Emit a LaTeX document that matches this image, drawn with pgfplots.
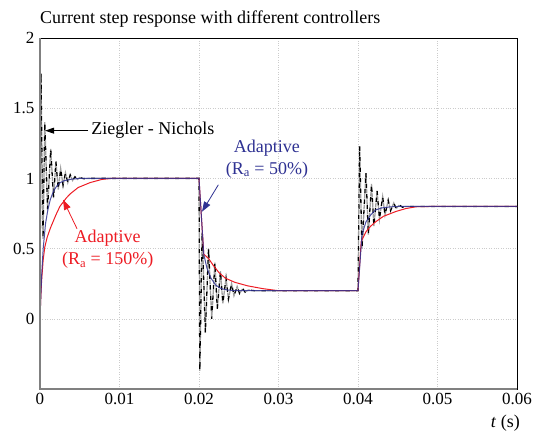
\documentclass[border=0pt]{standalone}
\usepackage{fontspec}
\setmainfont{Liberation Serif}
\usepackage{pgfplots}
\pgfplotsset{compat=1.18}
\usetikzlibrary{arrows.meta}
\definecolor{blueC}{RGB}{46,49,146}
\definecolor{redC}{RGB}{237,28,36}
\begin{document}
\begin{tikzpicture}
\useasboundingbox (-40pt,-45pt) rectangle (493pt,389pt);
\begin{axis}[
  at={(0pt,0pt)}, anchor=south west,
  scale only axis, width=477pt, height=351pt,
  xmin=0, xmax=0.06, ymin=-0.5, ymax=2,
  xtick={0,0.01,0.02,0.03,0.04,0.05,0.06},
  xticklabels={0,0.01,0.02,0.03,0.04,0.05,0.06},
  ytick={0,0.5,1,1.5,2},
  yticklabels={0,0.5,1,1.5,2},
  scaled x ticks=false,
  grid=major, major grid style={dotted, gray!40, line width=0.6pt},
  major tick length=0pt,
  axis line style={black, line width=0.9pt},
  tick label style={font=\fontsize{17}{20}\selectfont},
  yticklabel style={xshift=-2pt},
  xticklabel style={yshift=-1pt},
  /pgf/number format/assume math mode=true,
  clip=false,
  after end axis/.code={
    \draw[gray, line width=1.6pt] (rel axis cs:0,1) -- (rel axis cs:0,0) -- (rel axis cs:1,0);
  },
]
% Ziegler-Nichols (dashed black/grey)
\pgfplotstableread{
t y
0 0
0.00012 1.75
0.00038 0.57
0.0006 1.40
0.00095 0.78
0.00135 1.21
0.0017 0.86
0.002 1.12
0.0023 0.92
0.0026 1.07
0.0029 0.95
0.0032 1.04
0.0035 0.97
0.0038 1.025
0.0041 0.985
0.0044 1.012
0.0047 0.993
0.005 1.006
0.0055 0.998
0.006 1.0
0.02 1.0
0.0201 -0.37
0.0204 0.62
0.0208 -0.1
0.0212 0.5
0.0216 0.0
0.022 0.4
0.0223 0.07
0.0227 0.34
0.023 0.11
0.0234 0.29
0.0237 0.14
0.0241 0.25
0.0244 0.165
0.0248 0.23
0.0251 0.18
0.0255 0.215
0.0258 0.19
0.0262 0.205
0.027 0.2
0.04 0.2
0.0402 1.23
0.0405 0.5
0.041 1.04
0.0413 0.6
0.0417 0.96
0.042 0.66
0.0424 0.91
0.0427 0.71
0.0431 0.87
0.0434 0.74
0.0438 0.845
0.0441 0.77
0.0445 0.825
0.0448 0.785
0.0452 0.81
0.0456 0.795
0.046 0.8
0.06 0.8
}\zn
\addplot[gray!75, line width=1.3pt, dash pattern=on 4.5pt off 6pt] table {\zn};
\addplot[black, line width=1.3pt, dash pattern=on 4.5pt off 6pt, dash phase=5.25pt] table {\zn};
% Adaptive Ra = 150%
\addplot[redC, line width=1pt] coordinates {
(0,0) (0.0001,0.15) (0.0002,0.27) (0.0004,0.42) (0.0006,0.51) (0.0009,0.58) (0.0013,0.645) (0.002,0.74)
(0.0025,0.80) (0.0033,0.86) (0.0038,0.89) (0.0048,0.935) (0.0063,0.97)
(0.0078,0.993) (0.009,1.0) (0.02,1.0)
(0.0206,0.46) (0.0212,0.43) (0.0218,0.38) (0.0225,0.33) (0.0233,0.29)
(0.0245,0.26) (0.0261,0.235) (0.028,0.215) (0.03,0.2) (0.04,0.2)
(0.0404,0.55) (0.041,0.62) (0.0416,0.66) (0.0422,0.69) (0.0432,0.73)
(0.0448,0.765) (0.046,0.785) (0.0473,0.798) (0.049,0.8) (0.06,0.8)
};
% Adaptive Ra = 50%
\addplot[blueC, line width=1pt, opacity=0.85] coordinates {
(0,0) (0.0002,0.3) (0.0004,0.5) (0.0007,0.68) (0.001,0.78) (0.0013,0.85)
(0.0017,0.91) (0.0021,0.945) (0.0025,0.968) (0.003,0.983) (0.004,0.995)
(0.005,1.0) (0.02,1.0)
(0.0206,0.46) (0.021,0.36) (0.0215,0.29) (0.0221,0.24) (0.0228,0.215)
(0.0236,0.205) (0.0246,0.2) (0.04,0.2)
(0.0405,0.6) (0.041,0.69) (0.0416,0.74) (0.0422,0.775) (0.043,0.79)
(0.044,0.797) (0.045,0.8) (0.06,0.8)
};
% annotations
\draw[black, line width=0.8pt, -{Triangle[length=9pt,width=6pt]}] (axis cs:0.00605,1.34) -- (axis cs:0.00065,1.34);
\node[anchor=west, font=\fontsize{18}{21.6}\selectfont, inner sep=0pt] at (axis cs:0.00643,1.34) {Ziegler - Nichols};
\node[align=center, text=blueC, font=\fontsize{18}{21.6}\selectfont, inner sep=0pt] at (axis cs:0.02855,1.137) {Adaptive\\(R\textsubscript{a} = 50\%)};
\draw[blueC, line width=0.8pt, -{Triangle[length=10pt,width=7pt]}] (axis cs:0.02244,0.955) -- (axis cs:0.02038,0.763);
\node[align=center, text=redC, font=\fontsize{18}{21.6}\selectfont, inner sep=0pt] at (axis cs:0.00851,0.495) {Adaptive\\(R\textsubscript{a} = 150\%)};
\draw[redC, line width=0.8pt, -{Triangle[length=10pt,width=7pt]}] (axis cs:0.00466,0.641) -- (axis cs:0.0029,0.848);
\end{axis}
\node[anchor=base west, font=\fontsize{18}{21.6}\selectfont, inner sep=0pt] at (0pt,365pt) {Current step response with different controllers};
\node[anchor=east, font=\fontsize{18}{21.6}\selectfont, inner sep=0pt] at (480pt,-34pt) {\textit{t} (s)};
\end{tikzpicture}
\end{document}
